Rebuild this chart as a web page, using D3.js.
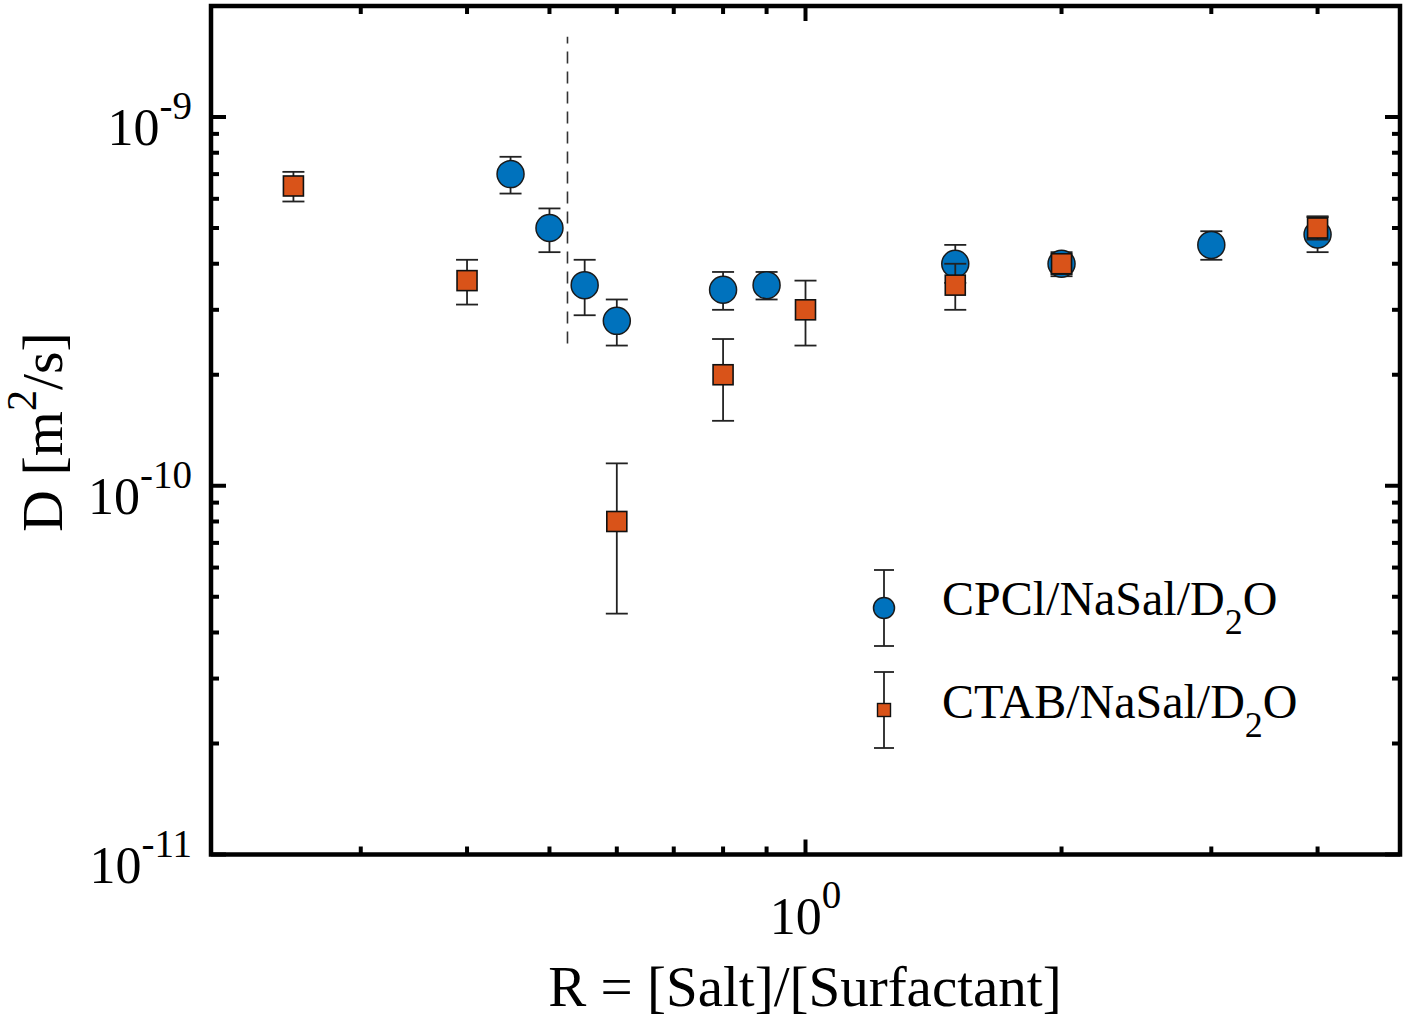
<!DOCTYPE html>
<html><head><meta charset="utf-8">
<script src="https://cdn.jsdelivr.net/npm/d3@7"></script>
<style>
body{margin:0;background:#fff}
svg{display:block}
text{font-family:"Liberation Serif","Times New Roman",serif;fill:#000}
</style>
</head><body>
<svg id="c" width="1407" height="1022"></svg>
<script>
// ---- data ----
const cpclR  = [0.45, 0.5, 0.55, 0.6, 0.8, 0.9, 1.5, 2, 3, 4];
const cpclD  = [7.0e-10, 5.0e-10, 3.5e-10, 2.8e-10, 3.4e-10, 3.5e-10, 4.0e-10, 4.0e-10, 4.5e-10, 4.8e-10];
const cpclLo = [6.2e-10, 4.3e-10, 2.9e-10, 2.4e-10, 3.0e-10, 3.2e-10, 3.55e-10, 3.7e-10, 4.1e-10, 4.3e-10];
const cpclHi = [7.8e-10, 5.65e-10, 4.1e-10, 3.2e-10, 3.8e-10, 3.8e-10, 4.5e-10, 4.3e-10, 4.9e-10, 5.35e-10];

const ctabR  = [0.25, 0.4, 0.6, 0.8, 1.0, 1.5, 2, 4];
const ctabD  = [6.5e-10, 3.6e-10, 8.0e-11, 2.0e-10, 3.0e-10, 3.5e-10, 4.0e-10, 5.0e-10];
const ctabLo = [5.9e-10, 3.1e-10, 4.5e-11, 1.5e-10, 2.4e-10, 3.0e-10, 3.75e-10, 4.65e-10];
const ctabHi = [7.1e-10, 4.1e-10, 1.15e-10, 2.5e-10, 3.6e-10, 4.0e-10, 4.25e-10, 5.38e-10];

const dashR = 0.525;
const dashD = [2.43e-10, 1.65e-9];

const xDomain = [0.2, 5];
const yDomain = [1e-11, 2e-9];
const xMajor = [1];
const xMinor = [0.3, 0.4, 0.5, 0.6, 0.7, 0.8, 0.9, 2, 3, 4];
const yMajor = [1e-11, 1e-10, 1e-9];
const yMinor = [2e-11,3e-11,4e-11,5e-11,6e-11,7e-11,8e-11,9e-11,
                2e-10,3e-10,4e-10,5e-10,6e-10,7e-10,8e-10,9e-10];
const xTickExp = ["0"];
const yTickExp = ["-11", "-10", "-9"];
const legendLabels = ["CPCl/NaSal/D", "CTAB/NaSal/D"];

const xLabel = "R = [Salt]/[Surfactant]";

// ---- layout ----
const L = 211, R = 1400, T = 6, B = 854.5;
const blue = "#0072BD", orange = "#D95319";
const svg = d3.select("#c");
const x = d3.scaleLog().domain(xDomain).range([L, R]);
const y = d3.scaleLog().domain(yDomain).range([B, T]);

// ticks (inward, mirrored)
const tk = svg.append("g").attr("stroke", "#000").attr("stroke-width", 4);
const majLen = 15, minLen = 8;
function xt(v, len){
  tk.append("line").attr("x1", x(v)).attr("x2", x(v)).attr("y1", B).attr("y2", B - len);
  tk.append("line").attr("x1", x(v)).attr("x2", x(v)).attr("y1", T).attr("y2", T + len);
}
function yt(v, len){
  tk.append("line").attr("y1", y(v)).attr("y2", y(v)).attr("x1", L).attr("x2", L + len);
  tk.append("line").attr("y1", y(v)).attr("y2", y(v)).attr("x1", R).attr("x2", R - len);
}
xMajor.forEach(v => xt(v, majLen));
xMinor.forEach(v => xt(v, minLen));
yMajor.forEach(v => yt(v, majLen));
yMinor.forEach(v => yt(v, minLen));

// frame
svg.append("rect").attr("x", L).attr("y", T).attr("width", R - L).attr("height", B - T)
  .attr("fill", "none").attr("stroke", "#000").attr("stroke-width", 4.5);

// tick labels
xMajor.forEach((v, i) => {
  const t = svg.append("text").attr("x", x(v)).attr("y", 934)
    .attr("text-anchor", "middle").attr("font-size", 52);
  t.append("tspan").text("10");
  t.append("tspan").attr("dy", -26).attr("font-size", 39).text(xTickExp[i]);
});
yMajor.forEach((v, i) => {
  const t = svg.append("text").attr("x", 192).attr("y", y(v) + 28)
    .attr("text-anchor", "end").attr("font-size", 52);
  t.append("tspan").text("10");
  t.append("tspan").attr("dy", -26).attr("font-size", 39).text(yTickExp[i]);
});

// axis labels
svg.append("text").attr("x", 805).attr("y", 1006).attr("text-anchor", "middle")
  .attr("font-size", 57).text(xLabel);
const yl = svg.append("text").attr("transform", "translate(62,432) rotate(-90)")
  .attr("text-anchor", "middle").attr("font-size", 58);
yl.append("tspan").text("D [m");
yl.append("tspan").attr("dy", -26).attr("font-size", 42).text("2");
yl.append("tspan").attr("dy", 26).text("/s]");

// dashed vertical line
svg.append("line").attr("x1", x(dashR)).attr("x2", x(dashR))
  .attr("y1", y(dashD[0])).attr("y2", y(dashD[1]))
  .attr("stroke", "#333").attr("stroke-width", 1.6).attr("stroke-dasharray", "12,8");

// error bars + markers
const capW = 11;
function errorbars(rs, lo, hi){
  const g = svg.append("g").attr("stroke", "#222").attr("stroke-width", 1.8);
  rs.forEach((r, i) => {
    const cx = x(r);
    g.append("line").attr("x1", cx).attr("x2", cx).attr("y1", y(lo[i])).attr("y2", y(hi[i]));
    g.append("line").attr("x1", cx - capW).attr("x2", cx + capW).attr("y1", y(lo[i])).attr("y2", y(lo[i]));
    g.append("line").attr("x1", cx - capW).attr("x2", cx + capW).attr("y1", y(hi[i])).attr("y2", y(hi[i]));
  });
}
errorbars(cpclR, cpclLo, cpclHi);
svg.append("g").selectAll("circle").data(cpclR).join("circle")
  .attr("cx", d => x(d)).attr("cy", (d, i) => y(cpclD[i])).attr("r", 13.5)
  .attr("fill", blue).attr("stroke", "#1a1a1a").attr("stroke-width", 1.5);
errorbars(ctabR, ctabLo, ctabHi);
const sq = 20;
svg.append("g").selectAll("rect").data(ctabR).join("rect")
  .attr("x", d => x(d) - sq/2).attr("y", (d, i) => y(ctabD[i]) - sq/2)
  .attr("width", sq).attr("height", sq)
  .attr("fill", orange).attr("stroke", "#111").attr("stroke-width", 1.6);

// legend
const lx = 884;
const legendRows = [{cy: 608, top: 570, bot: 646, base: 615}, {cy: 710, top: 672, bot: 748, base: 718}];
legendRows.forEach((row, i) => {
  const g = svg.append("g").attr("stroke", "#222").attr("stroke-width", 1.8);
  g.append("line").attr("x1", lx).attr("x2", lx).attr("y1", row.top).attr("y2", row.bot);
  g.append("line").attr("x1", lx - 10).attr("x2", lx + 10).attr("y1", row.top).attr("y2", row.top);
  g.append("line").attr("x1", lx - 10).attr("x2", lx + 10).attr("y1", row.bot).attr("y2", row.bot);
  if (i === 0) {
    svg.append("circle").attr("cx", lx).attr("cy", row.cy).attr("r", 10.5)
      .attr("fill", blue).attr("stroke", "#1a1a1a").attr("stroke-width", 1.5);
  } else {
    svg.append("rect").attr("x", lx - 6.5).attr("y", row.cy - 6.5).attr("width", 13).attr("height", 13)
      .attr("fill", orange).attr("stroke", "#111").attr("stroke-width", 1.4);
  }
  const t = svg.append("text").attr("x", 942).attr("y", row.base).attr("font-size", 48);
  t.append("tspan").text(legendLabels[i]);
  t.append("tspan").attr("dy", 19).attr("font-size", 36).text("2");
  t.append("tspan").attr("dy", -19).text("O");
});
</script>
</body></html>
